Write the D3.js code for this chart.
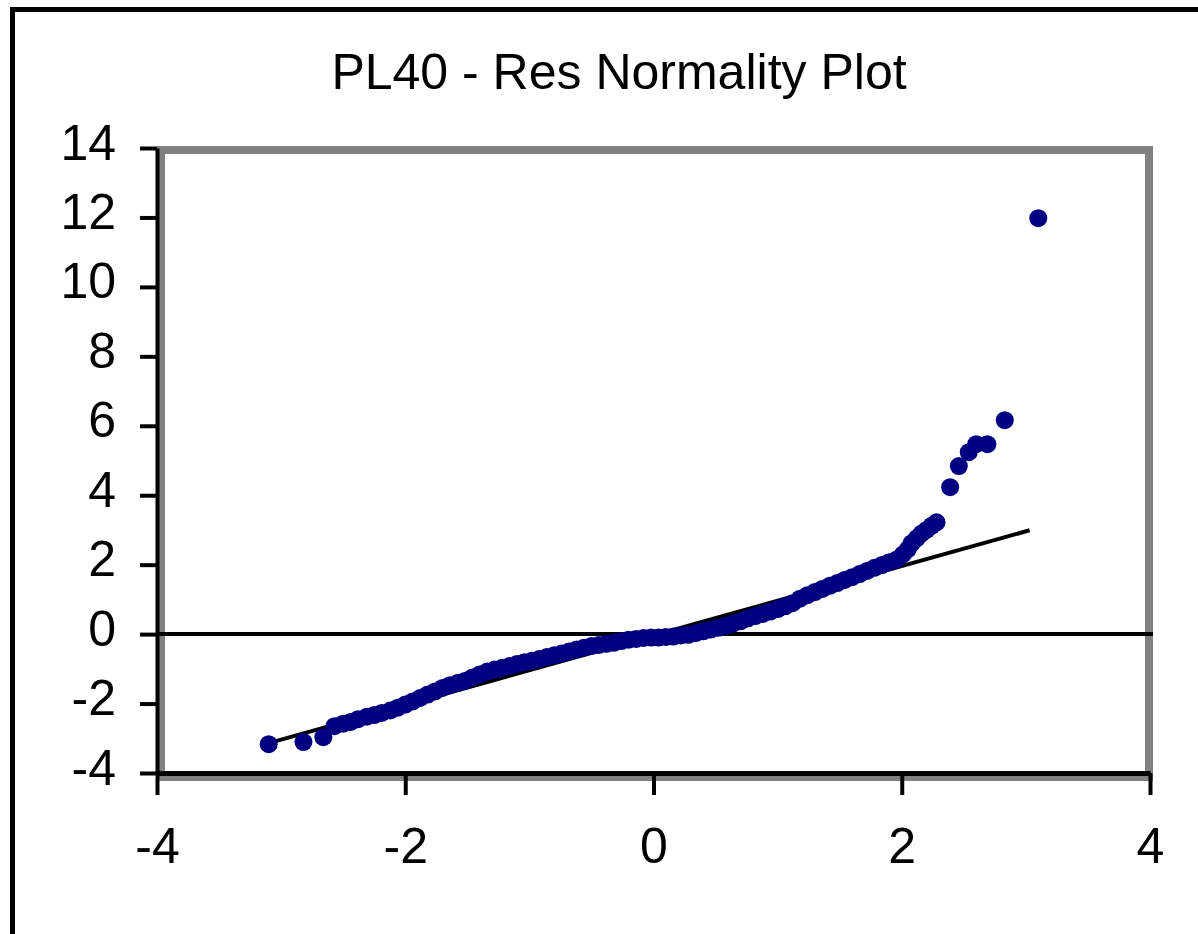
<!DOCTYPE html>
<html>
<head>
<meta charset="utf-8">
<script src="https://cdn.jsdelivr.net/npm/d3@7"></script>
<style>
  body { margin: 0; background: #fff; }
  svg { display: block; }
  text { font-family: "Liberation Sans", Arial, sans-serif; fill: #000; }
</style>
</head>
<body>
<div id="chart"></div>
<script>
// normal scores (x) and residuals (y)
const normX = [-3.10, -2.82, -2.66, -2.57, -2.50, -2.44, -2.38, -2.31, -2.25, -2.19,
  -2.12, -2.06, -2.00, -1.94, -1.88, -1.82, -1.76, -1.70, -1.64, -1.58,
  -1.52, -1.46, -1.40, -1.34, -1.28, -1.22, -1.16, -1.10, -1.04, -0.98,
  -0.92, -0.86, -0.80, -0.74, -0.68, -0.62, -0.56, -0.50, -0.44, -0.38,
  -0.32, -0.26, -0.20, -0.14, -0.08, -0.02, 0.04, 0.10, 0.16, 0.22,
  0.28, 0.34, 0.40, 0.46, 0.52, 0.58, 0.64, 0.70, 0.76, 0.82,
  0.88, 0.94, 1.00, 1.06, 1.12, 1.18, 1.24, 1.30, 1.36, 1.42,
  1.48, 1.54, 1.60, 1.66, 1.72, 1.78, 1.84, 1.90, 1.96, 2.01,
  2.05, 2.08, 2.12, 2.16, 2.20, 2.24, 2.28, 2.39, 2.46, 2.54,
  2.60, 2.69, 2.83, 3.10];
const resid = [-3.17, -3.11, -2.97, -2.65, -2.58, -2.53, -2.45, -2.38, -2.33, -2.27,
  -2.20, -2.12, -2.03, -1.94, -1.84, -1.74, -1.65, -1.55, -1.47, -1.41,
  -1.35, -1.25, -1.16, -1.08, -1.02, -0.97, -0.92, -0.86, -0.81, -0.77,
  -0.72, -0.66, -0.61, -0.56, -0.50, -0.44, -0.39, -0.34, -0.31, -0.28,
  -0.25, -0.20, -0.16, -0.14, -0.11, -0.10, -0.10, -0.08, -0.07, -0.04,
  -0.02, 0.03, 0.08, 0.13, 0.18, 0.24, 0.30, 0.37, 0.45, 0.52,
  0.58, 0.65, 0.72, 0.80, 0.89, 1.02, 1.12, 1.21, 1.30, 1.39,
  1.47, 1.56, 1.64, 1.73, 1.82, 1.91, 1.99, 2.07, 2.15, 2.30,
  2.45, 2.62, 2.76, 2.90, 3.00, 3.12, 3.22, 4.23, 4.84, 5.24,
  5.47, 5.47, 6.16, 11.98];

// fitted line end points
const fitX = [-3.10, 3.03];
const fitY = [-3.14, 2.99];

const xTicks = [-4, -2, 0, 2, 4];
const yTicks = [-4, -2, 0, 2, 4, 6, 8, 10, 12, 14];
const title = "PL40 - Res Normality Plot";

const width = 1198, height = 934;
const plotLeft = 157, plotRight = 1150, plotTop = 148, plotBottom = 773;

const svg = d3.select("#chart").append("svg")
  .attr("width", width)
  .attr("height", height);

// chart area border (runs off the picture on right and bottom)
svg.append("rect")
  .attr("x", 12.5).attr("y", 9.5)
  .attr("width", 1300).attr("height", 1000)
  .attr("fill", "#fff")
  .attr("stroke", "#000")
  .attr("stroke-width", 5);

svg.append("text")
  .attr("x", 619).attr("y", 89)
  .attr("text-anchor", "middle")
  .attr("font-size", "50px")
  .text(title);

const x = d3.scaleLinear().domain([-4, 4]).range([plotLeft, plotRight]);
const y = d3.scaleLinear().domain([-4, 14]).range([plotBottom, plotTop]);

// plot area border
svg.append("rect")
  .attr("x", 161).attr("y", 150)
  .attr("width", 988).attr("height", 627)
  .attr("fill", "none")
  .attr("stroke", "#808080")
  .attr("stroke-width", 8);

// zero line
svg.append("line")
  .attr("x1", plotLeft).attr("x2", 1153)
  .attr("y1", y(0)).attr("y2", y(0))
  .attr("stroke", "#000")
  .attr("stroke-width", 4);

// fitted line
svg.append("line")
  .attr("x1", x(fitX[0])).attr("y1", y(fitY[0]))
  .attr("x2", x(fitX[1])).attr("y2", y(fitY[1]))
  .attr("stroke", "#000")
  .attr("stroke-width", 4);

const pts = normX.map((d, i) => ({ x: d, y: resid[i] }));

svg.append("g")
  .attr("fill", "#000080")
  .selectAll("circle")
  .data(pts)
  .join("circle")
  .attr("cx", d => x(d.x))
  .attr("cy", d => y(d.y))
  .attr("r", 9);

const yAxis = svg.append("g")
  .attr("transform", `translate(${plotLeft},0)`)
  .call(d3.axisLeft(y).tickValues(yTicks).tickSize(17).tickSizeOuter(0).tickPadding(24)
    .tickFormat(d => d));
yAxis.select(".domain").attr("stroke", "#000").attr("stroke-width", 4);
yAxis.selectAll(".tick line").attr("stroke", "#000").attr("stroke-width", 4);
yAxis.selectAll(".tick text")
  .attr("font-size", "50px")
  .attr("dy", "0.22em");

const xAxis = svg.append("g")
  .attr("transform", `translate(0,${plotBottom})`)
  .call(d3.axisBottom(x).tickValues(xTicks).tickSize(22).tickSizeOuter(0).tickPadding(32)
    .tickFormat(d => d));
xAxis.select(".domain").attr("stroke", "#000").attr("stroke-width", 5);
xAxis.selectAll(".tick line").attr("stroke", "#000").attr("stroke-width", 4);
xAxis.selectAll(".tick text")
  .attr("font-size", "50px");

svg.selectAll(".tick text")
  .attr("fill", "#000")
  .style("font-family", "'Liberation Sans', Arial, sans-serif");
</script>
</body>
</html>
